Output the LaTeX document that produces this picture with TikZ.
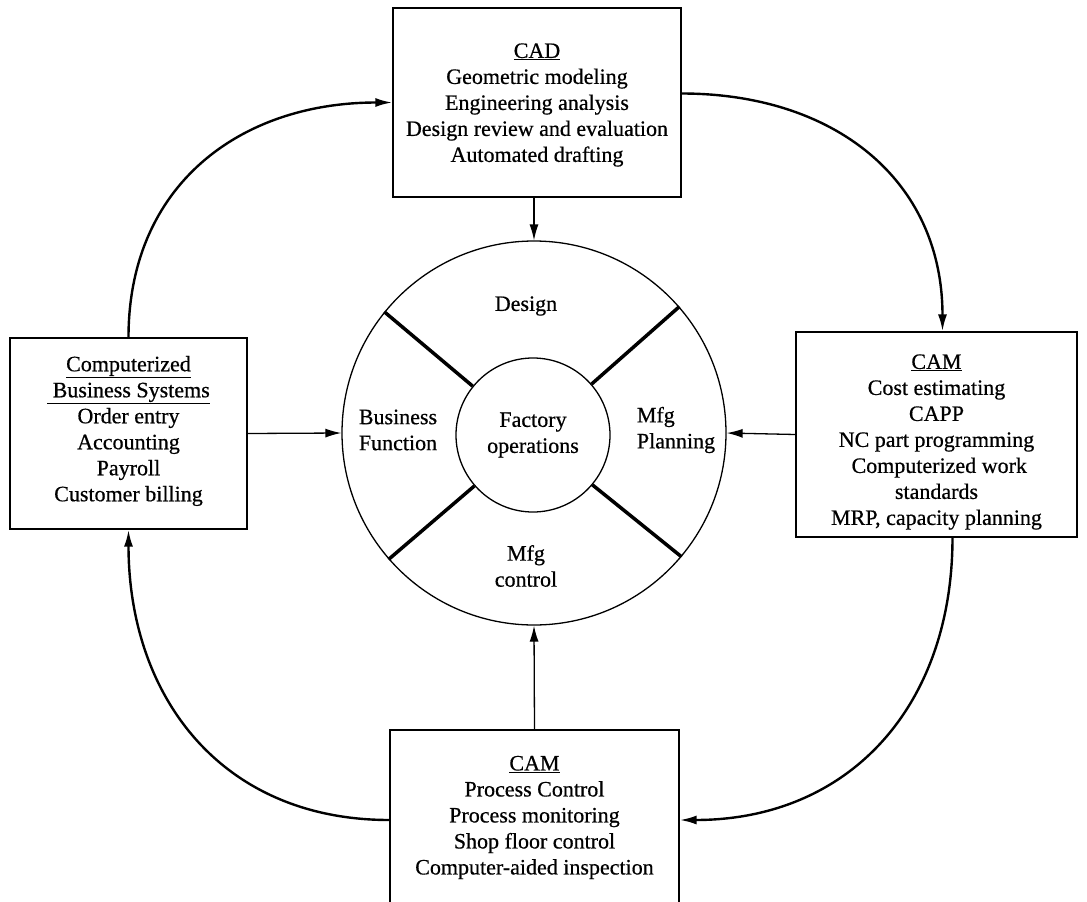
\documentclass[tikz,border=0pt]{standalone}
\usepackage{fontspec}
\setmainfont[FakeBold=0.6,AutoFakeBold=0.6]{Liberation Serif}
\usetikzlibrary{arrows.meta,calc}
\begin{document}
\begin{tikzpicture}[x=1pt,y=-1pt,
  box/.style={draw, line width=1.2pt, inner sep=0pt},
  txt/.style={align=center, font=\fontsize{22}{26}\selectfont, inner sep=0pt},
  ring/.style={circle, draw, line width=1.3pt, inner sep=0pt},
  conn/.style={line width=1.3pt, -{Latex[length=16pt,width=9pt]}},
  curve/.style={line width=2.4pt, -{Latex[length=17pt,width=9pt]}, looseness=1.1},
  spoke/.style={line width=3.5pt}]
\useasboundingbox (0,0) rectangle (1087,902);

% boxes
\node[box, minimum width=288pt, minimum height=189pt] (cad) at (537,102.5) {};
\node[txt] (cadtext) at (537,105) {\underline{CAD}\\Geometric modeling\\Engineering analysis\\Design review and evaluation\\Automated drafting};

\node[box, minimum width=237pt, minimum height=191pt] (cbs) at (128.5,433.5) {};
\node[txt] (cbstext) at (128.5,431) {\underline{Computerized}\\\underline{\ Business Systems}\\Order entry\\Accounting\\Payroll\\Customer billing};

\node[box, minimum width=281pt, minimum height=205pt] (camr) at (936.5,434.5) {};
\node[txt] (camrtext) at (936.5,442) {\underline{CAM}\\Cost estimating\\CAPP\\NC part programming\\\ Computerized work\\standards\\MRP, capacity planning};

\node[box, minimum width=289pt, minimum height=180pt] (camb) at (534.5,820) {};
\node[txt] (cambtext) at (534.5,817.5) {\underline{CAM}\\Process Control\\Process monitoring\\Shop floor control\\Computer-aided inspection};

% wheel
\node[ring, minimum size=384pt] (outer) at (534,433) {};
\node[ring, minimum size=154pt, align=center, font=\fontsize{22}{26}\selectfont] (inner) at (533,435) {Factory\\operations};
\draw[spoke] (inner.141) -- (outer.141);
\draw[spoke] (inner.41) -- (outer.41);
\draw[spoke] (inner.221) -- (outer.221);
\draw[spoke] (inner.320) -- (outer.320);

\node[txt] (design) at (526,306) {Design};
\node[txt] (bus) at (398,430) {Business\\Function};
\node[txt, align=left] (mfgp) at (676,430) {Mfg\\Planning};
\node[txt] (mfgc) at (526,566) {Mfg\\control};

% straight connectors
\draw[conn] (cad.south -| outer.north) -- (outer.north);
\draw[conn] (cbs.east) -- (outer.west);
\draw[conn] (camr.west) -- (outer.east);
\draw[conn] (camb.north) -- (outer.south);

% curved connectors
\draw[curve] (cbs.north) to[out=90,in=180] (cad.west);
\draw[curve] ($(cad.east)+(0,-9)$) to[out=0,in=90] ($(camr.north)+(6,0)$);
\draw[curve] ($(camr.south)+(16,0)$) to[out=-90,in=0] (camb.east);
\draw[curve] (camb.west) to[out=180,in=-90] (cbs.south);
\end{tikzpicture}
\end{document}
